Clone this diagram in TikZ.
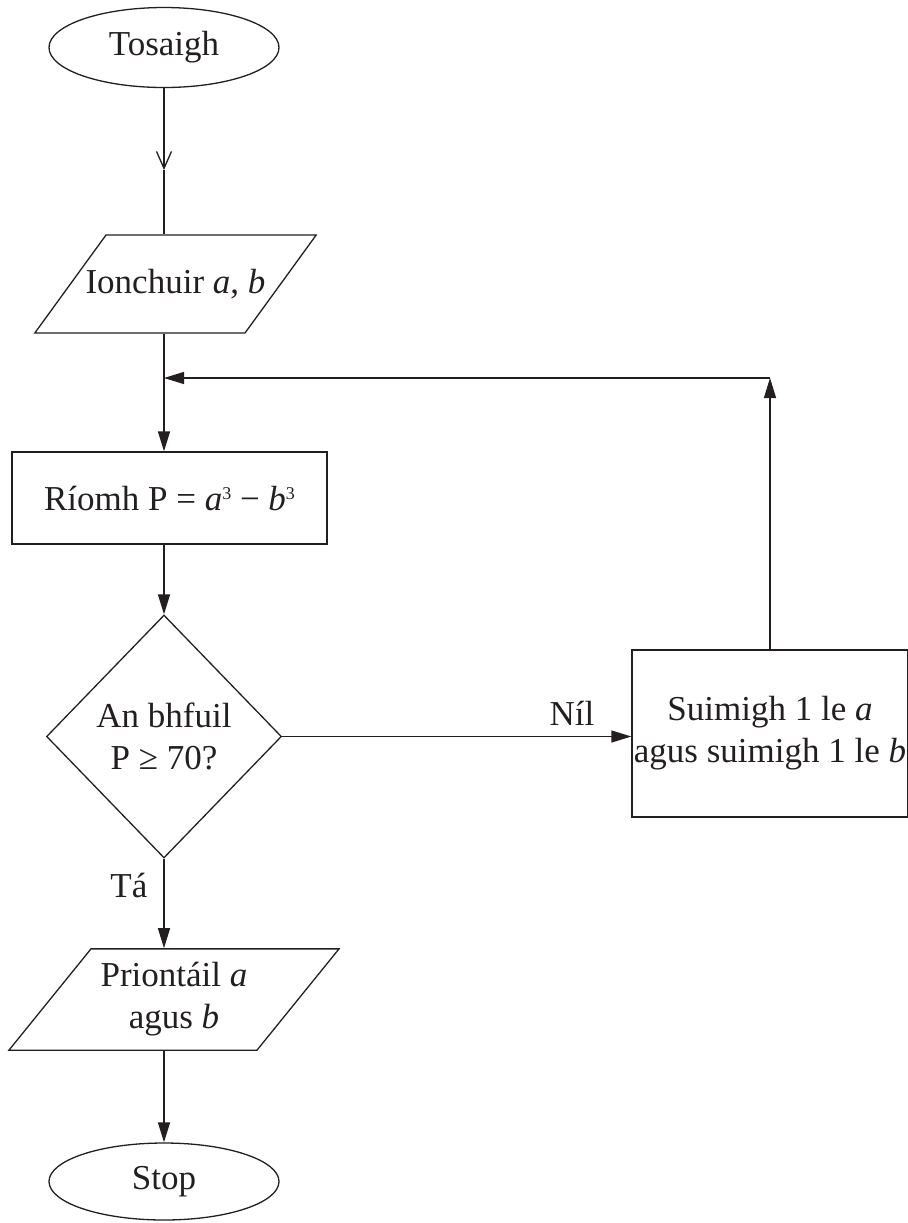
\documentclass[tikz,border=0pt]{standalone}
\usepackage{fontspec}
\setmainfont{Liberation Serif}
\usetikzlibrary{shapes.geometric}
\usetikzlibrary{arrows.meta}
\definecolor{ink}{RGB}{35,31,32}
\newcommand{\cube}{\raisebox{5.5pt}{\fontsize{9}{9}\selectfont 3}}

\begin{document}
\begin{tikzpicture} [x=0.5pt, y=-0.5pt, line width=0.65pt, draw=ink, text=ink,
        every node/.style={font=\fontsize{17.5}{21}\selectfont, align=center, inner sep=0pt},
        terminal/.style={draw, ellipse, minimum width=115pt, minimum height=40pt},
        ioblock/.style={draw, trapezium},
        procblock/.style={draw, rectangle},
        decision/.style={draw, diamond, minimum width=117.5pt, minimum height=121.5pt},
        arr/.style={-{Triangle[length=10pt, width=6pt]}}]
            \useasboundingbox (0, 0) rectangle (907, 1223);

            \node[terminal] (start) at (164, 47.5) {Tosaigh};
            \node[ioblock, trapezium left angle=54, trapezium right angle=126,
                text height=12pt, text depth=2.5pt, inner ysep=17.25pt] (input) at (175.5, 284)
                {\makebox[69.5pt]{Ionchuir \textit{a}, \textit{b}}};
            \node[procblock, minimum width=157.5pt, minimum height=46pt] (calc) at (169.5, 498)
                {Ríomh P = \textit{a}\cube\ − \textit{b}\cube};
            \node[decision] (check) at (164, 736.5) {An bhfuil\\P ≥ 70?};
            \node[procblock, minimum width=138pt, minimum height=83.5pt] (incr) at (770, 733.5)
                {Suimigh 1 le \textit{a}\\agus suimigh 1 le \textit{b}};
            \node[ioblock, trapezium left angle=51, trapezium right angle=129, align=flush center,
                text width=83pt, inner ysep=6.85pt] (output) at (174, 999.5) {Priontáil \textit{a}\\agus \textit{b}};
            \node[terminal, minimum height=38.5pt] (stop) at (164, 1181.5) {Stop};

            \coordinate (mid) at (164, 170);
            \coordinate (join) at (164, 378);

            \draw[-{Straight Barb[length=8.5pt, width=7.5pt]}] (start) -- (mid);
            \draw (mid) -- (input.north -| mid);
            \draw[arr] (input.south -| mid) -- (calc.north -| mid);
            \draw[arr] (calc.south -| mid) -- (check.north);
            \draw[arr] (check.east) -- node[pos=0.83, above=5pt] {Níl} (check.east -| incr.west);
            \draw[arr] (incr.north) -- (incr.north |- join);
            \draw[arr] (incr.north |- join) -- (join);
            \draw[arr] (check.south) -- node[pos=0.3, left=8pt] {Tá} (output.north -| check.south);
            \draw[arr] (output.south -| check.south) -- (stop);
        \end{tikzpicture}
\end{document}
